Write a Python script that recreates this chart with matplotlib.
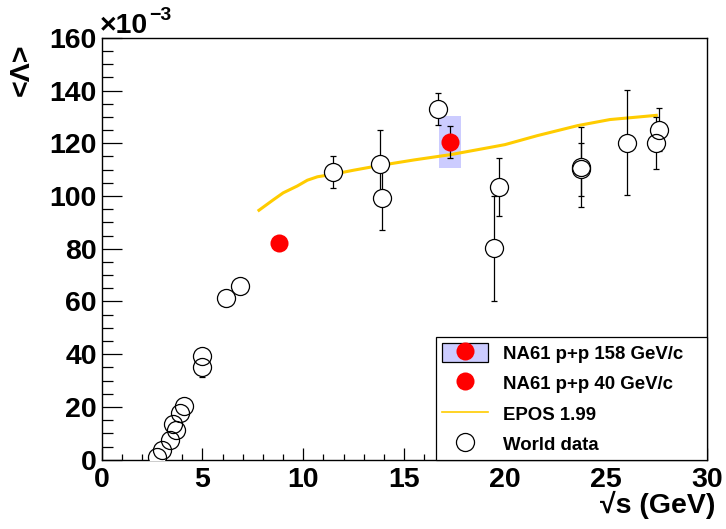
import numpy as np
import matplotlib
matplotlib.use('Agg')
import matplotlib.pyplot as plt
from matplotlib.lines import Line2D
from matplotlib.patches import Patch, Rectangle
from matplotlib.ticker import MultipleLocator

plt.rcParams['font.family'] = ['Liberation Sans', 'DejaVu Sans']
plt.rcParams['font.weight'] = 'bold'

# world data (values in units of 1e-3)
world_x = [2.76, 3.0, 3.37, 3.53, 3.67, 3.87, 4.08, 4.99, 4.99, 6.15, 6.84,
           11.49, 13.78, 13.91, 16.69, 19.45, 19.70, 23.78, 23.78, 26.03, 27.47, 27.63]
world_y = [1.0, 3.5, 7.6, 13.4, 11.3, 17.8, 20.5, 39.2, 35.3, 61.2, 65.7,
           109.0, 112.2, 99.3, 133.1, 80.2, 103.4, 111.0, 110.1, 120.3, 120.1, 125.2]
world_err = [0.5, 1, 1, 1.5, 1.5, 2, 2, 1.5, 4, 1.5, 1.5,
             6, 13, 12, 6, 20, 11, 15, 10, 20, 10, 8]

# NA61 points
na61_158_x = [17.27]
na61_158_y = [120.4]
na61_158_err = [6]
na61_158_sys = [9.9]
na61_158_dx = [0.53]
na61_40_x = [8.77]
na61_40_y = [82.0]

# EPOS 1.99
epos_x = [7.8, 8.5, 9.0, 9.7, 10.2, 10.7, 11.5, 12.5, 13.8, 15.5, 17.3, 19.3,
          20.0, 21.6, 23.6, 25.2, 26.5, 27.5]
epos_y = [94.6, 98.5, 101.2, 103.8, 106.0, 107.3, 108.3, 109.8, 111.6, 113.7, 115.7, 118.5,
          119.5, 122.9, 126.7, 129.0, 129.9, 130.6]

epos_col = '#FFCC00'
box_col = '#CCCCFF'

fig = plt.figure(figsize=(7.26, 5.29), dpi=100)
ax = fig.add_axes([0.140, 0.131, 0.8334, 0.7975])

# systematic box
for x, y, dx, s in zip(na61_158_x, na61_158_y, na61_158_dx, na61_158_sys):
    ax.add_patch(Rectangle((x - dx, y - s), 2 * dx, 2 * s, facecolor=box_col,
                           edgecolor='none', zorder=1))

ax.plot(epos_x, epos_y, color=epos_col, lw=2.2, zorder=2)

# world data: error bars, white fill, then outlines
ax.errorbar(world_x, world_y, yerr=world_err, fmt='none', ecolor='black',
            elinewidth=0.9, capsize=2.2, capthick=0.9, zorder=3)
ax.plot(world_x, world_y, 'o', ms=13, mfc='white', mec='white', mew=0, zorder=4)
ax.plot(world_x, world_y, 'o', ms=13, mfc='none', mec='black', mew=0.9, zorder=5)

ax.errorbar(na61_158_x, na61_158_y, yerr=na61_158_err, fmt='none', ecolor='black',
            elinewidth=0.9, capsize=2.2, capthick=0.9, zorder=3)
ax.plot(na61_158_x, na61_158_y, 'o', ms=13, color='red', mew=0, zorder=6)
ax.plot(na61_40_x, na61_40_y, 'o', ms=13, color='red', mew=0, zorder=6)

ax.set_xlim(0, 30)
ax.set_ylim(0, 160)
ax.xaxis.set_major_locator(MultipleLocator(5))
ax.xaxis.set_minor_locator(MultipleLocator(1))
ax.yaxis.set_major_locator(MultipleLocator(20))
ax.yaxis.set_minor_locator(MultipleLocator(5))
ax.tick_params(axis='both', which='both', direction='in', top=False, right=False,
               labelsize=20.5, width=0.9)
ax.tick_params(axis='y', which='major', length=14.4, pad=3.4)
ax.tick_params(axis='y', which='minor', length=7.9)
ax.tick_params(axis='x', which='major', length=8.6, pad=5)
ax.tick_params(axis='x', which='minor', length=4.3)
for lab in ax.get_xticklabels() + ax.get_yticklabels():
    lab.set_fontweight('bold')
for sp in ax.spines.values():
    sp.set_linewidth(1.0)

# legend
h1 = (Patch(facecolor=box_col, edgecolor='black', lw=0.9),
      Line2D([], [], ls='none', marker='o', ms=13, color='red', mew=0))
h2 = Line2D([], [], ls='none', marker='o', ms=13, color='red', mew=0)
h3 = Line2D([], [], color=epos_col, lw=1.2)
h4 = Line2D([], [], ls='none', marker='o', ms=13, mfc='none', mec='black', mew=0.9)
leg = ax.legend([h1, h2, h3, h4],
                ['NA61 p+p 158 GeV/c', 'NA61 p+p 40 GeV/c', 'EPOS 1.99', 'World data'],
                loc='lower left', bbox_to_anchor=(0.5526, 0.0, 0.4474, 0.295),
                mode='expand', borderaxespad=0, fancybox=False, shadow=False,
                framealpha=1, edgecolor='black', prop={'size': 13.4, 'weight': 'bold'},
                handlelength=2.5, handleheight=1.2, handletextpad=0.8,
                labelspacing=0.57, borderpad=0.3)
leg.get_frame().set_linewidth(0.9)
leg.set_zorder(10)

fig.text(715 / 726, (529 - 505) / 529, '\u221As (GeV)', ha='right', va='center',
         fontsize=20.5, fontweight='bold')
fig.text(22 / 726, (529 - 43) / 529, '<\u039b>', rotation=90, ha='center', va='top',
         fontsize=20.5, fontweight='bold')
fig.text(100 / 726, (529 - 33) / 529, '\u00d710', ha='left', va='baseline',
         fontsize=20.5)
fig.text(149 / 726, (529 - 20) / 529, '\u22123', ha='left', va='baseline',
         fontsize=14)

fig.savefig('out.png', dpi=100)
